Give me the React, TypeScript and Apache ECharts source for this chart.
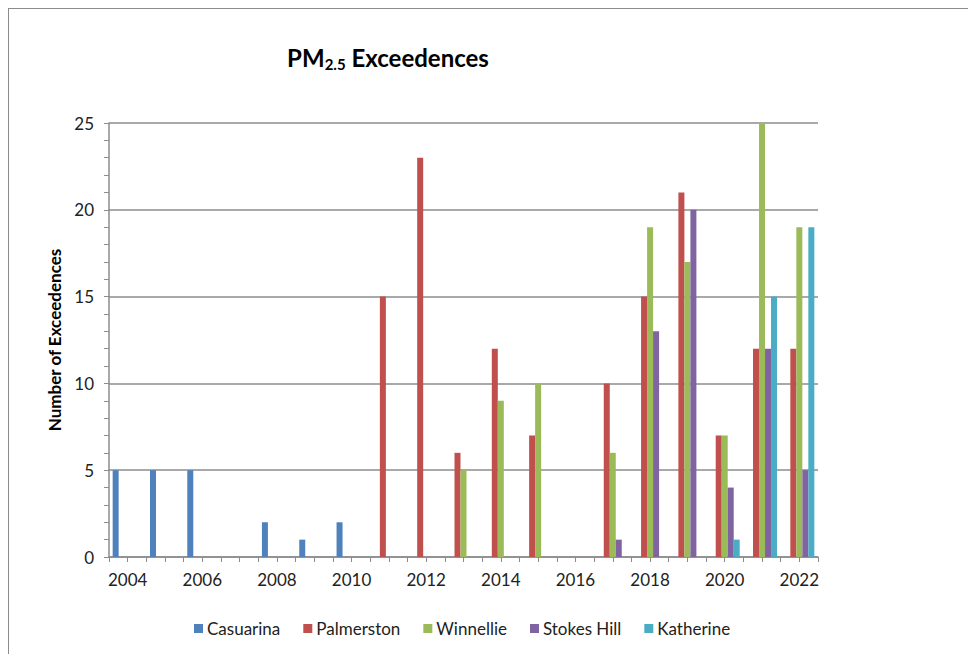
import React, { useEffect, useRef } from "react";
import * as echarts from "echarts";

// Years on the category axis
const years = [
  "2004", "2005", "2006", "2007", "2008", "2009", "2010", "2011", "2012", "2013",
  "2014", "2015", "2016", "2017", "2018", "2019", "2020", "2021", "2022",
];

// Number of PM2.5 exceedences per monitoring station (null = no record)
const casuarina = [5, 5, 5, null, 2, 1, 2, null, null, null, null, null, null, null, null, null, null, null, null];
const palmerston = [null, null, null, null, null, null, null, 15, 23, 6, 12, 7, null, 10, 15, 21, 7, 12, 12];
const winnellie = [null, null, null, null, null, null, null, null, null, 5, 9, 10, null, 6, 19, 17, 7, 25, 19];
const stokesHill = [null, null, null, null, null, null, null, null, null, null, null, null, null, 1, 13, 20, 4, 12, 5];
const katherine = [null, null, null, null, null, null, null, null, null, null, null, null, null, null, null, null, 1, 15, 19];

const stations = [
  { name: "Casuarina", data: casuarina, color: "#4F81BD" },
  { name: "Palmerston", data: palmerston, color: "#C0504D" },
  { name: "Winnellie", data: winnellie, color: "#9BBB59" },
  { name: "Stokes Hill", data: stokesHill, color: "#8064A2" },
  { name: "Katherine", data: katherine, color: "#4BACC6" },
];

const FONT = "Lato, 'Liberation Sans', sans-serif";
const AXIS_GREY = "#8c8c8c";

export default function App() {
  const ref = useRef<HTMLDivElement>(null);

  useEffect(() => {
    if (!ref.current) return;
    const chart = echarts.init(ref.current, null, { renderer: "svg" });
    chart.setOption({
      animation: false,
      backgroundColor: "#ffffff",
      textStyle: { fontFamily: FONT },
      title: {
        text: "{a|PM}{b|2.5}{a| Exceedences}",
        left: 374,
        top: 30,
        textAlign: "center",
        textStyle: {
          rich: {
            a: { fontFamily: FONT, fontSize: 24, fontWeight: "bold", color: "#000" },
            b: { fontFamily: FONT, fontSize: 15, fontWeight: "bold", color: "#000", padding: [12, 0, 0, 0] },
          },
        },
      },
      legend: {
        left: 180,
        top: 606,
        itemWidth: 9,
        itemHeight: 9,
        itemGap: 23,
        icon: "rect",
        textStyle: { fontFamily: FONT, fontSize: 17, color: "#222", padding: [0, 0, 0, -1] },
        data: stations.map((s) => s.name),
      },
      grid: { left: 100, right: 150, top: 114, bottom: 97, containLabel: false },
      xAxis: [
        {
          type: "category",
          data: years,
          axisLine: { show: true, lineStyle: { color: AXIS_GREY, width: 1.5 } },
          axisTick: { show: true, interval: 0, length: 5, alignWithLabel: false, lineStyle: { color: AXIS_GREY } },
          axisLabel: { interval: 1, fontSize: 17, color: "#222", margin: 14, fontFamily: FONT },
        },
        {
          type: "category",
          data: years,
          position: "bottom",
          axisLine: { show: false },
          axisTick: { show: true, interval: 0, length: 5, alignWithLabel: true, lineStyle: { color: AXIS_GREY } },
          axisLabel: { show: false },
          splitLine: { show: false },
        },
      ],
      yAxis: {
        type: "value",
        min: 0,
        max: 25,
        interval: 5,
        name: "Number of Exceedences",
        nameLocation: "middle",
        nameGap: 44,
        nameRotate: 90,
        nameTextStyle: { fontFamily: FONT, fontSize: 17, fontWeight: "bold", color: "#000" },
        axisLine: { show: true, lineStyle: { color: AXIS_GREY, width: 1.5 } },
        axisTick: { show: true, length: 5, lineStyle: { color: AXIS_GREY } },
        minorTick: { show: true, splitNumber: 5, length: 5, lineStyle: { color: AXIS_GREY } },
        axisLabel: { fontSize: 17, color: "#222", margin: 15, fontFamily: FONT },
        splitLine: { show: true, lineStyle: { color: AXIS_GREY, width: 1.5 } },
      },
      series: stations.map((s) => ({
        name: s.name,
        type: "bar",
        xAxisIndex: 0,
        data: s.data,
        barWidth: 6,
        barGap: "0%",
        itemStyle: { color: s.color },
      })),
    });
    return () => chart.dispose();
  }, []);

  return (
    <div
      ref={ref}
      style={{
        width: 960,
        height: 646,
        borderLeft: "1.5px solid #8c8c8c",
        borderTop: "1.5px solid #8c8c8c",
        boxSizing: "border-box",
      }}
    />
  );
}
